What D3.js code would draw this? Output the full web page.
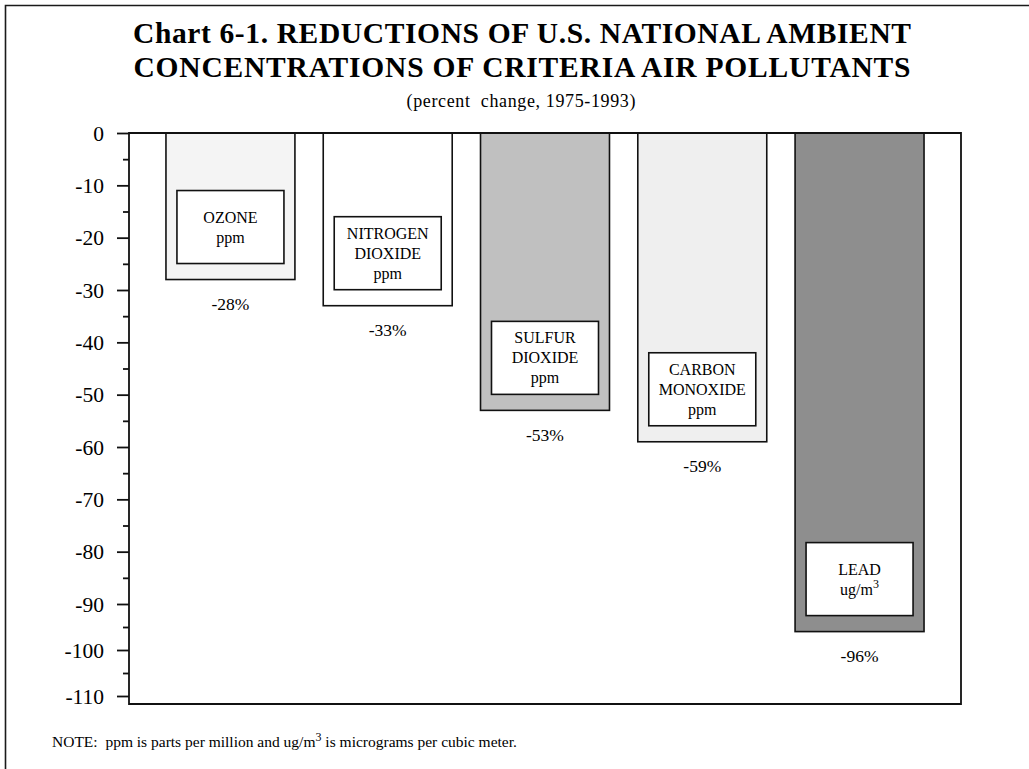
<!DOCTYPE html>
<html>
<head>
<meta charset="utf-8">
<script src="https://cdn.jsdelivr.net/npm/d3@7"></script>
<style>
  html, body { margin: 0; padding: 0; background: #fff; }
  svg { display: block; }
  text { font-family: "Liberation Serif", "Times New Roman", serif; fill: #000; }
</style>
</head>
<body>
<svg id="chart" width="1029" height="769"></svg>
<script>
// Pollutants, their percent change 1975-1993, and how each bar is shaded
const pollutants = ["OZONE", "NITROGEN DIOXIDE", "SULFUR DIOXIDE", "CARBON MONOXIDE", "LEAD"];
const labelLines = [["OZONE", "ppm"], ["NITROGEN", "DIOXIDE", "ppm"], ["SULFUR", "DIOXIDE", "ppm"], ["CARBON", "MONOXIDE", "ppm"], ["LEAD", "ug/m|3"]];
const percentChange = [-28, -33, -53, -59, -96];
const barFills = ["#f4f4f4", "#ffffff", "#c0c0c0", "#efefef", "#8e8e8e"];
const yTicks = [0, -10, -20, -30, -40, -50, -60, -70, -80, -90, -100, -110];
const yMinorTicks = [-5, -15, -25, -35, -45, -55, -65, -75, -85, -95, -105];

const titleLines = ["Chart 6-1. REDUCTIONS OF U.S. NATIONAL AMBIENT", "CONCENTRATIONS OF CRITERIA AIR POLLUTANTS"];
const subtitle = "(percent\u00a0 change, 1975-1993)";

const svg = d3.select("#chart");

// Outer page frame (left and top edges)
svg.append("path")
  .attr("d", "M5.5,769 V5.5 H1029")
  .attr("fill", "none").attr("stroke", "#1a1a1a").attr("stroke-width", 1.6);

// Title block
svg.append("text").attr("x", 522).attr("y", 43).attr("text-anchor", "middle")
  .attr("font-size", 29.5).attr("font-weight", "bold")
  .attr("textLength", 778).attr("lengthAdjust", "spacing")
  .text(titleLines[0]);
svg.append("text").attr("x", 522).attr("y", 77).attr("text-anchor", "middle")
  .attr("font-size", 29.5).attr("font-weight", "bold")
  .attr("textLength", 777).attr("lengthAdjust", "spacing")
  .text(titleLines[1]);
svg.append("text").attr("x", 521).attr("y", 107).attr("text-anchor", "middle")
  .attr("font-size", 18).attr("textLength", 229).attr("lengthAdjust", "spacing")
  .text(subtitle);

// Plot area
const plot = { left: 129, right: 961, top: 133, bottom: 704 };

const x = d3.scaleBand()
  .domain(pollutants)
  .range([plot.left, plot.right])
  .paddingInner(0.18)
  .paddingOuter(0.235);

// The axis is drawn a little compressed below -90
const y = d3.scaleLinear()
  .domain([0, -90, -110])
  .range([plot.top, 604, 696]);

const g = svg.append("g");

// Bars hang down from the zero line
g.selectAll("rect.bar")
  .data(pollutants)
  .join("rect")
  .attr("class", "bar")
  .attr("x", d => x(d))
  .attr("y", y(0))
  .attr("width", x.bandwidth())
  .attr("height", (d, i) => y(percentChange[i]) - y(0))
  .attr("fill", (d, i) => barFills[i])
  .attr("stroke", "#111")
  .attr("stroke-width", 1.6);

// Name boxes inside each bar
const boxW = 107, boxH = 73, boxGap = 16, lineH = 20;
pollutants.forEach((p, i) => {
  const cx = x(p) + x.bandwidth() / 2;
  const boxBottom = y(percentChange[i]) - boxGap;
  const boxTop = boxBottom - boxH;
  g.append("rect")
    .attr("x", cx - boxW / 2).attr("y", boxTop)
    .attr("width", boxW).attr("height", boxH)
    .attr("fill", "#fff").attr("stroke", "#111").attr("stroke-width", 1.6);
  const lines = labelLines[i];
  const first = boxTop + boxH / 2 - (lines.length - 1) * lineH / 2 + 5.5;
  lines.forEach((ln, j) => {
    const t = g.append("text")
      .attr("x", cx).attr("y", first + j * lineH)
      .attr("text-anchor", "middle").attr("font-size", 16);
    const parts = ln.split("|");
    t.append("tspan").text(parts[0]);
    if (parts[1]) {
      t.append("tspan").attr("dy", -7).attr("font-size", 12).text(parts[1]);
    }
  });
  // Percent value under the bar
  g.append("text")
    .attr("x", cx).attr("y", y(percentChange[i]) + 30.5)
    .attr("text-anchor", "middle").attr("font-size", 17.5)
    .text(percentChange[i] + "%");
});

// Frame around the plot
g.append("path")
  .attr("d", `M${plot.left},${plot.top} H${plot.right} V${plot.bottom} H${plot.left} Z`)
  .attr("fill", "none").attr("stroke", "#111").attr("stroke-width", 1.8);

// Y axis with major and minor ticks (plain hyphen for negatives)
const axis = d3.axisLeft(y).tickValues(yTicks).tickSize(12).tickPadding(13)
  .tickFormat(d => String(d));
const ax = g.append("g").attr("transform", `translate(${plot.left},0)`).call(axis);
ax.select(".domain").remove();
ax.selectAll(".tick line").attr("stroke", "#111").attr("stroke-width", 1.8);
ax.selectAll(".tick text")
  .attr("font-family", "'Liberation Serif', 'Times New Roman', serif")
  .attr("font-size", 21.5).attr("fill", "#000").attr("dy", "0.34em");

const minor = d3.axisLeft(y).tickValues(yMinorTicks).tickSize(6).tickFormat("");
const mx = g.append("g").attr("transform", `translate(${plot.left},0)`).call(minor);
mx.select(".domain").remove();
mx.selectAll(".tick line").attr("stroke", "#111").attr("stroke-width", 1.8);

// Footnote
const note = svg.append("text").attr("x", 52).attr("y", 747).attr("font-size", 15.5);
note.append("tspan").text("NOTE:\u00a0 ppm is parts per million and ug/m");
note.append("tspan").attr("dy", -6).attr("font-size", 12).text("3");
note.append("tspan").attr("dy", 6).text(" is micrograms per cubic meter.");
</script>
</body>
</html>
